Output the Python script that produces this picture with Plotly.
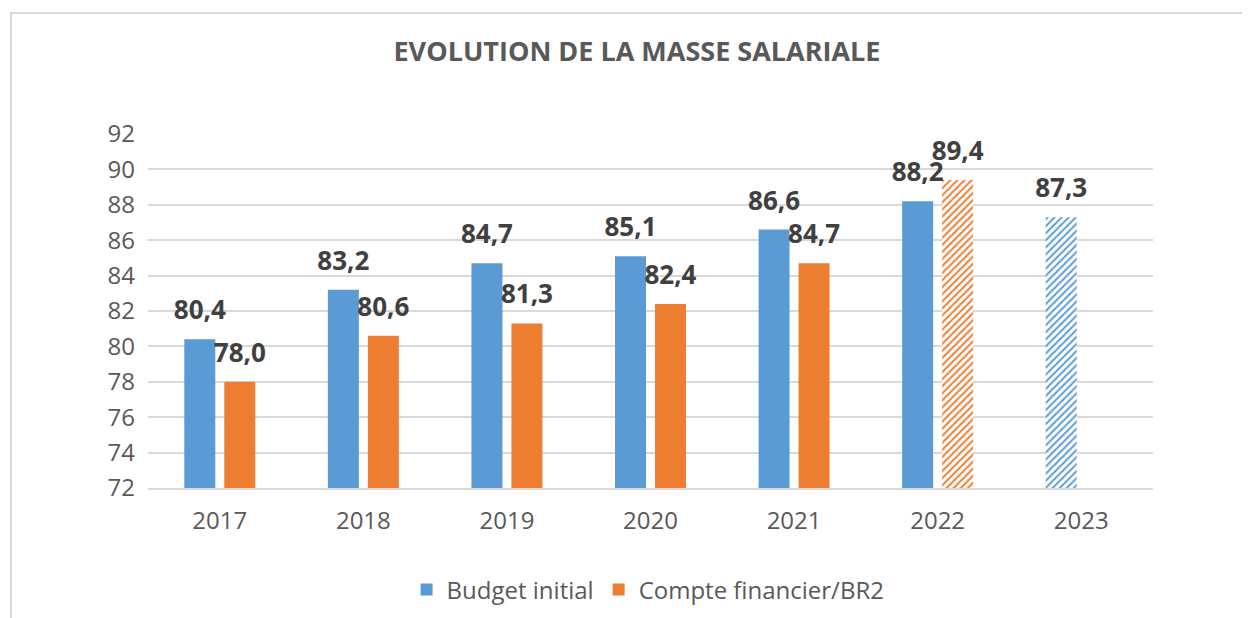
import plotly.graph_objects as go

years = ["2017", "2018", "2019", "2020", "2021", "2022", "2023"]
budget_initial = [80.4, 83.2, 84.7, 85.1, 86.6, 88.2, 87.3]
compte_financier = [78.0, 80.6, 81.3, 82.4, 84.7, 89.4, None]
budget_hatch = ["", "", "", "", "", "", "/"]
compte_hatch = ["", "", "", "", "", "/", ""]

BLUE = "#5B9BD5"
ORANGE = "#ED7D31"
FONT = "Open Sans"

def fmt(v):
    return "" if v is None else f"{v:.1f}".replace(".", ",")

fig = go.Figure()
series = [
    ("Budget initial", budget_initial, budget_hatch, BLUE, "a"),
    ("Compte financier/BR2", compte_financier, compte_hatch, ORANGE, "b"),
]
for name, vals, hatch, color, grp in series:
    fig.add_trace(go.Bar(
        x=years, y=[None if v is None else v - 72 for v in vals], base=72,
        name=name, offsetgroup=grp, alignmentgroup="g",
        marker=dict(color=color, line=dict(width=0),
                    pattern=dict(shape=hatch, fgcolor=color, bgcolor="white",
                                 size=5, solidity=0.4, fillmode="replace")),
        hoverinfo="skip",
    ))
for name, vals, hatch, color, grp in series:
    fig.add_trace(go.Scatter(
        x=years, y=vals, mode="markers+text", offsetgroup=grp, alignmentgroup="g",
        text=[fmt(v) for v in vals], textposition="top center",
        marker=dict(size=20, opacity=0),
        textfont=dict(family=FONT, size=26, color="#404040", weight="bold"),
        cliponaxis=False, showlegend=False, hoverinfo="skip",
    ))

OFF = 8  # body margin of the html page
W, H = 1250, 618
L, T = 148 - OFF, 134 - OFF
pw, ph = 1005, 354
R = W - L - pw
B = H - T - ph

def px_x(p):
    return (p - OFF - L) / pw

def px_y(p):
    return (T + ph - (p - OFF)) / ph

fig.update_layout(
    width=W, height=H,
    margin=dict(l=L, r=R, t=T, b=B),
    paper_bgcolor="white", plot_bgcolor="white",
    barmode="group", bargap=0.443, bargroupgap=0.225,
    scattermode="group", scattergap=0.443,
    font=dict(family=FONT, color="#595959"),
    title=dict(text="<b>EVOLUTION DE LA MASSE SALARIALE</b>",
               x=(637 - OFF) / W, xanchor="center", y=1 - (52 - OFF) / H, yanchor="middle",
               font=dict(family=FONT, size=27, color="#595959")),
    legend=dict(orientation="h", x=(630 - OFF) / W, xanchor="center", yref="container",
                y=1 - (590 - OFF) / H, yanchor="middle",
                font=dict(family=FONT, size=24, color="#595959"),
                itemwidth=30, tracegroupgap=0,
                traceorder="normal"),
    showlegend=True,
    xaxis=dict(type="category", showgrid=False, showline=True, linecolor="#D9D9D9",
               linewidth=2, ticks="", tickfont=dict(family=FONT, size=24, color="#595959"),
               ticklabelstandoff=10),
    yaxis=dict(range=[72, 92], dtick=2, tick0=72, showgrid=True, gridcolor="#D9D9D9",
               gridwidth=2, zeroline=False, showline=False, ticks="",
               tickfont=dict(family=FONT, size=24, color="#595959"),
               ticklabelstandoff=12),
    shapes=[dict(type="rect", xref="paper", yref="paper",
                 x0=px_x(11), x1=px_x(W + 20), y0=px_y(H + 20), y1=px_y(13),
                 line=dict(color="#D9D9D9", width=2), fillcolor="rgba(0,0,0,0)",
                 layer="below")],
)

fig.write_html("out.html")
